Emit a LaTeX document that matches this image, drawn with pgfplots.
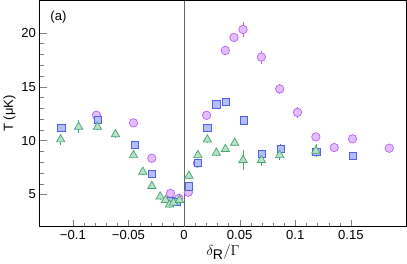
\documentclass[border=0pt]{standalone}
\usepackage{fontspec}
\setmainfont{Liberation Sans}
\usepackage{pgfplots}
\pgfplotsset{compat=1.18}
\definecolor{cfill}{RGB}{228,190,252}
\definecolor{cdraw}{RGB}{185,95,245}
\definecolor{sfill}{RGB}{180,190,250}
\definecolor{sdraw}{RGB}{80,95,240}
\definecolor{tfill}{RGB}{185,225,200}
\definecolor{tdraw}{RGB}{70,165,115}
\begin{document}
\begin{tikzpicture}
\begin{axis}[
  scale only axis, width=365pt, height=225pt,
  xmin=-0.13, xmax=0.2, ymin=2, ymax=23,
  xtick={-0.1,-0.05,0,0.05,0.1,0.15},
  xticklabels={−0.1,−0.05,0,0.05,0.1,0.15},
  ytick={5,10,15,20},
  minor x tick num=4, minor y tick num=4,
  xtick pos=left, ytick pos=left, tick align=inside,
  major tick length=7pt, minor tick length=4pt,
  /pgf/number format/assume math mode=true,
  tick label style={font=\fontsize{13}{15}\selectfont},
  axis line style={line width=1pt},
  xlabel={\fontsize{14}{16}\selectfont$\delta_{\textrm{R}}/\Gamma$}, ylabel={T (μK)},
  ylabel style={font=\fontsize{13}{15}\selectfont, yshift=-1pt},
  xlabel style={yshift=2pt},
  clip=false,
]
\draw[gray!80!black, line width=0.6pt] (axis cs:0,2) -- (axis cs:0,23);
\node[anchor=north west, font=\fontsize{13}{15}\selectfont] at (rel axis cs:0.02,0.97) {(a)};
% circles
\addplot[only marks, mark=*, mark size=4.2pt, mark options={draw=cdraw, fill=cfill, line width=0.7pt},
  error bars/.cd, y dir=both, y explicit, error bar style={cdraw, line width=0.5pt}, error mark=none]
 coordinates {
 (-0.0788,12.35) +- (0,0.3)
 (-0.0455,11.64) +- (0,0.4)
 (-0.029,8.36) +- (0,0.3)
 (-0.0122,5.09) +- (0,0.3)
 (-0.0047,4.63) +- (0,0.3)
 (0.0038,5.2) +- (0,0.3)
 (0.012,7.9) +- (0,0.3)
 (0.0203,12.34) +- (0,0.3)
 (0.0371,18.36) +- (0,0.3)
 (0.0449,19.57) +- (0,0.3)
 (0.053,20.31) +- (0,0.7)
 (0.0695,17.75) +- (0,0.6)
 (0.086,14.79) +- (0,0.5)
 (0.102,12.62) +- (0,0.5)
 (0.1185,10.34) +- (0,0.3)
 (0.135,9.35) +- (0,0.4)
 (0.1515,10.16) +- (0,0.3)
 (0.1845,9.29) +- (0,0.4)
 };
% squares
\addplot[only marks, mark=square*, mark size=3.6pt, mark options={draw=sdraw, fill=sfill, line width=0.7pt},
  error bars/.cd, y dir=both, y explicit, error bar style={sdraw, line width=0.5pt}, error mark=none]
 coordinates {
 (-0.1104,11.2) +- (0,0.2)
 (-0.0777,11.95) +- (0,0.3)
 (-0.0446,9.57) +- (0,0.2)
 (-0.0287,6.94) +- (0,0.2)
 (-0.012,4.4) +- (0,0.2)
 (-0.007,4.3) +- (0,0.2)
 (0.0043,5.75) +- (0,0.3)
 (0.0124,7.93) +- (0,0.3)
 (0.0209,11.2) +- (0,0.3)
 (0.029,13.36) +- (0,0.4)
 (0.0374,13.58) +- (0,0.2)
 (0.0539,11.88) +- (0,0.3)
 (0.0701,8.73) +- (0,0.3)
 (0.0867,9.26) +- (0,0.4)
 (0.119,8.95) +- (0,0.3)
 (0.1515,8.58) +- (0,0.2)
 };
% triangles
\addplot[only marks, mark=triangle*, mark size=4.8pt, mark options={draw=tdraw, fill=tfill, line width=0.7pt},
  error bars/.cd, y dir=both, y explicit, error bar style={tdraw, line width=0.5pt}, error mark=none]
 coordinates {
 (-0.111,10.1) +- (0,0.5)
 (-0.0948,11.27) +- (0,0.6)
 (-0.0779,11.27) +- (0,0.3)
 (-0.0617,10.58) +- (0,0.3)
 (-0.0455,8.64) +- (0,0.3)
 (-0.0371,7.1) +- (0,0.3)
 (-0.029,5.77) +- (0,0.3)
 (-0.0215,4.79) +- (0,0.3)
 (-0.0167,4.47) +- (0,0.3)
 (-0.0131,4.05) +- (0,0.3)
 (-0.0095,4.23) +- (0,0.3)
 (-0.0041,4.47) +- (0,0.3)
 (0.0043,6.72) +- (0,0.3)
 (0.0124,8.64) +- (0,0.3)
 (0.0209,10.09) +- (0,0.3)
 (0.029,8.86) +- (0,0.3)
 (0.0371,9.2) +- (0,0.3)
 (0.0455,9.78) +- (0,0.3)
 (0.053,8.18) +- (0,0.9)
 (0.0695,8.18) +- (0,0.5)
 (0.086,8.64) +- (0,0.4)
 (0.1185,9.05) +- (0,0.6)
 };
\end{axis}
\end{tikzpicture}
\end{document}
